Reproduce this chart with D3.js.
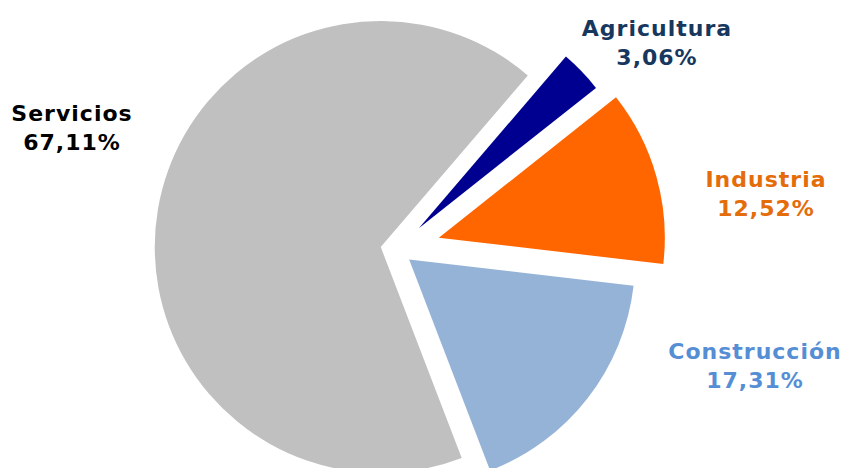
<!DOCTYPE html>
<html lang="es">
  <head>
    <meta charset="UTF-8" />
    <title>pie</title>
    <script src="https://cdn.jsdelivr.net/npm/d3@7"></script>
    <style>
      body { margin: 0; background: #fff; }
      text { font-family: Verdana, "DejaVu Sans", sans-serif; font-weight: bold; letter-spacing: 1px; }
    </style>
  </head>
  <body>
    <svg width="852" height="468"></svg>
  </body>

  <script>
    var sectores = ['Agricultura', 'Industria', 'Construcción', 'Servicios'];
    var porcentajes = [3.06, 12.52, 17.31, 67.11];
    var etiquetas = ['3,06%', '12,52%', '17,31%', '67,11%'];

    var colores = ['#000090', '#FF6600', '#95B3D7', '#C0C0C0'];
    var coloresTexto = ['#17375E', '#E46C0A', '#558ED5', '#000000'];
    var separacion = [31, 44, 16, 16]; // px que se separa cada porción
    // posición de cada etiqueta (centro, línea base de la 1ª línea)
    var posEtiqueta = [[657, 36], [766, 187], [755, 359], [72, 121]];

    var svg = d3.select('svg');
    var cx = 396.5, cy = 249.7, radio = 226;
    var g = svg.append('g').attr('transform', 'translate(' + cx + ',' + cy + ')');

    var inicio = 40.6 * Math.PI / 180;
    var pie = d3.pie().sort(null).startAngle(inicio).endAngle(inicio + 2 * Math.PI);
    var arc = d3.arc().innerRadius(0).outerRadius(radio);
    var arcos = pie(porcentajes);

    g.selectAll('path')
      .data(arcos)
      .enter()
      .append('path')
      .attr('d', arc)
      .attr('fill', function (d, i) { return colores[i]; })
      .attr('transform', function (d, i) {
        var a = (d.startAngle + d.endAngle) / 2;
        return 'translate(' + Math.sin(a) * separacion[i] + ',' + -Math.cos(a) * separacion[i] + ')';
      });

    // etiquetas
    var lab = svg.selectAll('text.lab')
      .data(sectores)
      .enter()
      .append('text')
      .attr('class', 'lab')
      .attr('text-anchor', 'middle')
      .attr('font-size', 22)
      .attr('fill', function (d, i) { return coloresTexto[i]; })
      .attr('x', function (d, i) { return posEtiqueta[i][0]; })
      .attr('y', function (d, i) { return posEtiqueta[i][1]; });
    lab.append('tspan').text(function (d) { return d; });
    lab.append('tspan')
      .attr('x', function (d, i) { return posEtiqueta[i][0]; })
      .attr('dy', 29)
      .text(function (d, i) { return etiquetas[i]; });
  </script>
</html>
